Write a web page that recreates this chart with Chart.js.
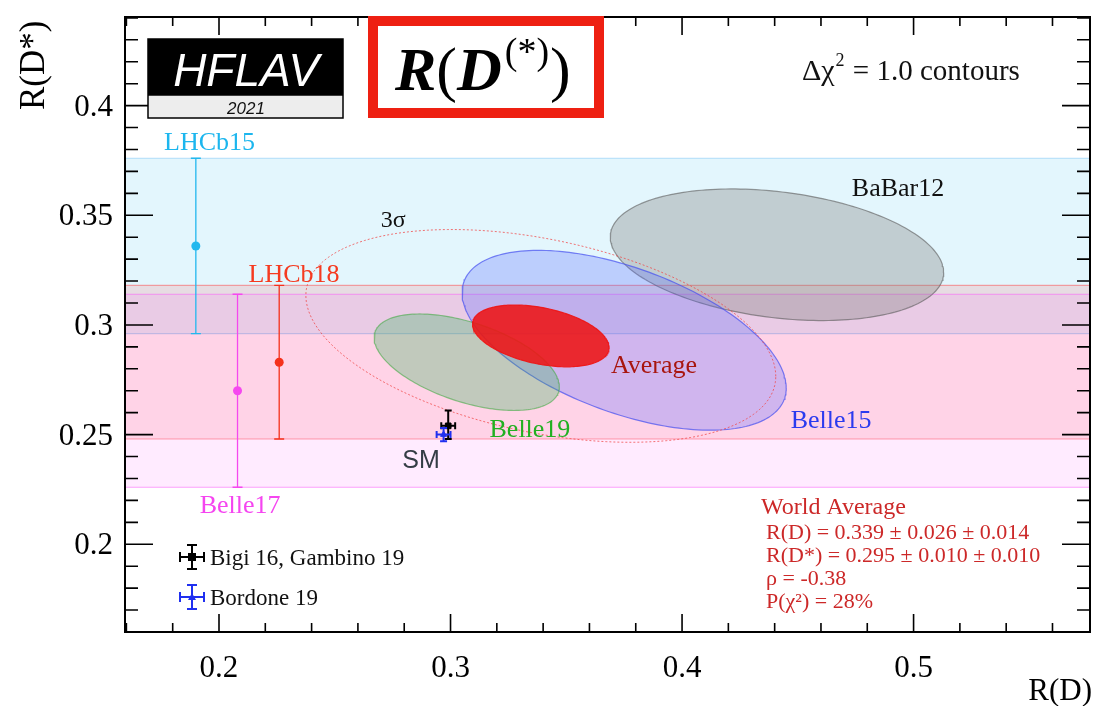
<!DOCTYPE html>
<html>
<head>
<meta charset="utf-8">
<script src="https://cdn.jsdelivr.net/npm/chart.js@4.4.1/dist/chart.umd.min.js"></script>
<style>
  html, body { margin: 0; padding: 0; background: #fff; }
  canvas { display: block; }
</style>
</head>
<body>
<canvas id="rdPlot" width="1107" height="706"></canvas>
<script>
// axis ticks
const xTicks = [0.2, 0.3, 0.4, 0.5];
const yTicks = [0.2, 0.25, 0.3, 0.35, 0.4];

// 1D measurements of R(D*) (bands)
const bandNames = ['LHCb15', 'LHCb18', 'Belle17'];
const bandRD = [0.190, 0.226, 0.208];
const bandRDs = [0.336, 0.283, 0.270];
const bandErr = [0.040, 0.035, 0.044];

// 2D measurements, delta chi2 = 1 contours
const ellNames = ['BaBar12', 'Belle15', 'Belle19', 'Average'];
const ellRD = [0.441, 0.375, 0.307, 0.339];
const ellRDs = [0.332, 0.293, 0.283, 0.295];
const ellSigRD = [0.072, 0.070, 0.040, 0.0295];
const ellSigRDs = [0.030, 0.041, 0.022, 0.0141];
const ellRho = [-0.27, -0.53, -0.51, -0.38];
const threeSigma = 3.44; // sqrt(11.83) for 2 dof

// SM predictions
const smNames = ['Bigi 16, Gambino 19', 'Bordone 19'];
const smRD = [0.299, 0.297];
const smRDerr = [0.003, 0.003];
const smRDs = [0.254, 0.250];
const smRDsUp = [0.007, 0.003];
const smRDsDn = [0.006, 0.003];

const SERIF = '"Liberation Serif", "Times New Roman", serif';
const SANS = '"Liberation Sans", Arial, sans-serif';

const bandStyle = [
  { fill: 'rgba(0,170,240,0.11)', edge: 'rgba(60,170,240,0.35)', mark: '#22b8ee' },
  { fill: 'rgba(255,30,30,0.12)', edge: 'rgba(255,60,60,0.45)', mark: '#f5311c' },
  { fill: 'rgba(255,60,255,0.10)', edge: 'rgba(250,90,250,0.55)', mark: '#f548ef' }
];
const ellStyle = [
  { fill: 'rgba(128,128,128,0.35)', line: 'rgba(90,90,90,0.6)' },
  { fill: 'rgba(80,100,255,0.27)', line: 'rgba(70,80,240,0.7)' },
  { fill: 'rgba(50,180,90,0.30)', line: 'rgba(70,170,70,0.6)' },
  { fill: 'rgba(238,20,20,0.88)', line: 'rgba(238,20,20,0.9)' }
];

// text labels placed in data coordinates
const labels = [
  { t: 'LHCb15', x: 0.1959, y: 0.3796, c: '#1cb6ee', f: '26px ' + SERIF },
  { t: 'LHCb18', x: 0.2324, y: 0.3196, c: '#f53a20', f: '26px ' + SERIF },
  { t: 'Belle17', x: 0.2091, y: 0.2142, c: '#f545f0', f: '26px ' + SERIF },
  { t: '3\u03c3', x: 0.2752, y: 0.3447, c: '#111', f: '24px ' + SERIF },
  { t: 'BaBar12', x: 0.4933, y: 0.3587, c: '#111', f: '26px ' + SERIF },
  { t: 'Average', x: 0.3879, y: 0.2780, c: '#a8160f', f: '26px ' + SERIF },
  { t: 'Belle15', x: 0.4644, y: 0.2529, c: '#2b3bef', f: '26px ' + SERIF },
  { t: 'Belle19', x: 0.3343, y: 0.2490, c: '#22b022', f: '26px ' + SERIF },
  { t: 'SM', x: 0.2873, y: 0.2347, c: '#343d45', f: '25px ' + SANS }
];

function contour(i, k) {
  const pts = [];
  const s = Math.sqrt(1 - ellRho[i] * ellRho[i]);
  for (let j = 0; j <= 200; j++) {
    const t = j / 200 * 2 * Math.PI;
    pts.push({
      x: ellRD[i] + k * ellSigRD[i] * Math.cos(t),
      y: ellRDs[i] + k * ellSigRDs[i] * (ellRho[i] * Math.cos(t) + s * Math.sin(t))
    });
  }
  return pts;
}

const datasets = [];
ellNames.forEach((n, i) => {
  datasets.push({
    type: 'line', label: n, data: contour(i, 1), order: 10 - i,
    borderColor: ellStyle[i].line, backgroundColor: ellStyle[i].fill,
    borderWidth: 1.2, pointRadius: 0, fill: 'shape', tension: 0
  });
});
datasets.push({
  type: 'line', label: '3sigma', data: contour(3, threeSigma), order: 5,
  borderColor: 'rgba(240,70,70,0.75)', borderWidth: 1, borderDash: [2, 2],
  pointRadius: 0, fill: false, tension: 0
});
datasets.push({
  label: 'bands', order: 2,
  data: bandNames.map((n, i) => ({ x: bandRD[i], y: bandRDs[i] })),
  pointRadius: 4.5, pointBackgroundColor: bandStyle.map(s => s.mark),
  pointBorderColor: bandStyle.map(s => s.mark), pointBorderWidth: 0
});
datasets.push({
  label: 'SM', order: 1,
  data: smNames.map((n, i) => ({ x: smRD[i], y: smRDs[i] })),
  pointStyle: ['rect', 'triangle'], pointRadius: [4, 3.5],
  pointBackgroundColor: ['#000', '#2030f0'], pointBorderColor: ['#000', '#2030f0'], pointBorderWidth: 1
});

function errBar(ctx, px, py, l, r, t, b, color, cap, lw) {
  ctx.save();
  ctx.strokeStyle = color; ctx.lineWidth = lw;
  ctx.beginPath();
  if (t !== b) {
    ctx.moveTo(px, t); ctx.lineTo(px, b);
    ctx.moveTo(px - cap, t); ctx.lineTo(px + cap, t);
    ctx.moveTo(px - cap, b); ctx.lineTo(px + cap, b);
  }
  if (l !== r) {
    ctx.moveTo(l, py); ctx.lineTo(r, py);
    ctx.moveTo(l, py - cap); ctx.lineTo(l, py + cap);
    ctx.moveTo(r, py - cap); ctx.lineTo(r, py + cap);
  }
  ctx.stroke();
  ctx.restore();
}

function txt(ctx, s, x, y, font, color, align) {
  ctx.font = font; ctx.fillStyle = color; ctx.textAlign = align || 'left';
  ctx.textBaseline = 'alphabetic';
  ctx.fillText(s, x, y);
  return ctx.measureText(s).width;
}

const bandsPlugin = {
  id: 'bands',
  beforeDatasetsDraw(chart) {
    const { ctx, chartArea: a, scales: { y } } = chart;
    ctx.save();
    bandNames.forEach((n, i) => {
      const top = y.getPixelForValue(bandRDs[i] + bandErr[i]);
      const bot = y.getPixelForValue(bandRDs[i] - bandErr[i]);
      ctx.fillStyle = bandStyle[i].fill;
      ctx.fillRect(a.left, top, a.right - a.left, bot - top);
      ctx.strokeStyle = bandStyle[i].edge; ctx.lineWidth = 1.2;
      ctx.beginPath();
      ctx.moveTo(a.left, top); ctx.lineTo(a.right, top);
      ctx.moveTo(a.left, bot); ctx.lineTo(a.right, bot);
      ctx.stroke();
    });
    ctx.restore();
  },
  afterDatasetsDraw(chart) {
    const { ctx, chartArea: a, scales: { x, y } } = chart;
    // vertical error bars of the 1D results
    bandNames.forEach((n, i) => {
      const px = x.getPixelForValue(bandRD[i]);
      errBar(ctx, px, 0, 0, 0, y.getPixelForValue(bandRDs[i] + bandErr[i]),
        y.getPixelForValue(bandRDs[i] - bandErr[i]), bandStyle[i].mark, 5, 1.3);
    });
    // SM error bars
    const smCol = ['#000', '#2030f0'];
    smNames.forEach((n, i) => {
      errBar(ctx, x.getPixelForValue(smRD[i]), y.getPixelForValue(smRDs[i]),
        x.getPixelForValue(smRD[i] - smRDerr[i]), x.getPixelForValue(smRD[i] + smRDerr[i]),
        y.getPixelForValue(smRDs[i] + smRDsUp[i]), y.getPixelForValue(smRDs[i] - smRDsDn[i]),
        smCol[i], 3.5, 2);
    });
    // labels
    labels.forEach(l => txt(ctx, l.t, x.getPixelForValue(l.x), y.getPixelForValue(l.y), l.f, l.c, 'center'));

    // legend of SM predictions
    const lg = [557, 597];
    smNames.forEach((n, i) => {
      errBar(ctx, 192, lg[i], 180, 204, lg[i] - 12, lg[i] + 12, smCol[i], 5, 2);
      ctx.fillStyle = smCol[i];
      if (i === 0) ctx.fillRect(188, lg[i] - 4, 8, 8);
      else { ctx.beginPath(); ctx.moveTo(192, lg[i] - 4); ctx.lineTo(196, lg[i] + 3); ctx.lineTo(188, lg[i] + 3); ctx.fill(); }
      txt(ctx, n, 210, lg[i] + 8, '23px ' + SERIF, '#111');
    });

    // world average block
    const wa = 'rgb(204,40,40)';
    txt(ctx, 'World Average', 761, 514, '24px ' + SERIF, wa);
    txt(ctx, 'R(D) = 0.339 \u00b1 0.026 \u00b1 0.014', 766, 539, '22px ' + SERIF, wa);
    txt(ctx, 'R(D*) = 0.295 \u00b1 0.010 \u00b1 0.010', 766, 562, '22px ' + SERIF, wa);
    txt(ctx, '\u03c1 = -0.38', 766, 585, '22px ' + SERIF, wa);
    txt(ctx, 'P(\u03c7\u00b2) = 28%', 766, 608, '22px ' + SERIF, wa);

    let dx = 802;
    dx += txt(ctx, '\u0394\u03c7', dx, 80, '30px ' + SERIF, '#111');
    dx += txt(ctx, '2', dx + 1, 66, '18px ' + SERIF, '#111') + 2;
    txt(ctx, ' = 1.0 contours', dx, 80, '29px ' + SERIF, '#111');

    // frame and inward ticks on all four sides
    ctx.save();
    ctx.strokeStyle = '#000';
    ctx.lineWidth = 1.6;
    ctx.beginPath();
    for (let k = 8; k <= 28; k++) {
      const px = x.getPixelForValue(k * 0.02);
      const len = k % 5 === 0 ? 18 : 9;
      ctx.moveTo(px, a.bottom); ctx.lineTo(px, a.bottom - len);
      ctx.moveTo(px, a.top); ctx.lineTo(px, a.top + len);
    }
    for (let k = 17; k <= 44; k++) {
      const py = y.getPixelForValue(k * 0.01);
      const len = k % 5 === 0 ? 28 : 13;
      ctx.moveTo(a.left, py); ctx.lineTo(a.left + len, py);
      ctx.moveTo(a.right, py); ctx.lineTo(a.right - len, py);
    }
    ctx.stroke();
    ctx.lineWidth = 2;
    ctx.strokeRect(a.left, a.top, a.right - a.left, a.bottom - a.top);
    ctx.restore();

    // tick labels
    ctx.save();
    ctx.font = '31px ' + SERIF; ctx.fillStyle = '#000';
    ctx.textAlign = 'center'; ctx.textBaseline = 'alphabetic';
    xTicks.forEach(v => ctx.fillText(String(v), x.getPixelForValue(v), 677));
    ctx.textAlign = 'right'; ctx.textBaseline = 'middle';
    yTicks.forEach(v => ctx.fillText(String(v), 113, y.getPixelForValue(v) + 2));
    ctx.restore();

    // axis titles
    txt(ctx, 'R(D)', 1092, 700, '31px ' + SERIF, '#000', 'right');
    ctx.save();
    ctx.translate(44, 110); ctx.rotate(-Math.PI / 2);
    txt(ctx, 'R(D*)', 0, 0, '35px ' + SERIF, '#000');
    ctx.restore();

    // HFLAV logo
    ctx.save();
    ctx.fillStyle = '#000';
    ctx.fillRect(148, 39, 195, 56);
    ctx.fillStyle = '#ededed';
    ctx.fillRect(148, 95, 195, 23);
    ctx.strokeStyle = '#000'; ctx.lineWidth = 1.5;
    ctx.strokeRect(148, 39, 195, 79);
    ctx.beginPath(); ctx.moveTo(148, 95); ctx.lineTo(343, 95); ctx.stroke();
    txt(ctx, 'HFLAV', 246, 86, 'italic 46px ' + SANS, '#fff', 'center');
    txt(ctx, '2021', 246, 114, 'italic 17px ' + SANS, '#111', 'center');
    ctx.restore();

    // R(D(*)) title box
    ctx.save();
    ctx.fillStyle = '#fff';
    ctx.fillRect(373, 21, 226, 92);
    ctx.strokeStyle = 'rgb(238,32,18)'; ctx.lineWidth = 10;
    ctx.strokeRect(373, 21, 226, 92);
    let cx = 395;
    cx += txt(ctx, 'R', cx, 90, 'italic bold 62px ' + SERIF, '#000');
    cx += txt(ctx, '(', cx, 90, '62px ' + SERIF, '#000');
    cx += txt(ctx, 'D', cx, 90, 'italic bold 62px ' + SERIF, '#000');
    cx += txt(ctx, '(*)', cx + 3, 64, '38px ' + SERIF, '#000') + 4;
    txt(ctx, ')', cx, 90, '62px ' + SERIF, '#000');
    ctx.restore();
  }
};

new Chart(document.getElementById('rdPlot'), {
  type: 'scatter',
  data: { datasets },
  options: {
    responsive: false,
    animation: false,
    events: [],
    layout: { padding: { left: 125, right: 17, top: 17, bottom: 74 } },
    scales: {
      x: { type: 'linear', min: 0.1594, max: 0.5762, display: false },
      y: { type: 'linear', min: 0.16, max: 0.4404, display: false }
    },
    plugins: { legend: { display: false }, tooltip: { enabled: false } }
  },
  plugins: [bandsPlugin]
});
</script>
</body>
</html>
